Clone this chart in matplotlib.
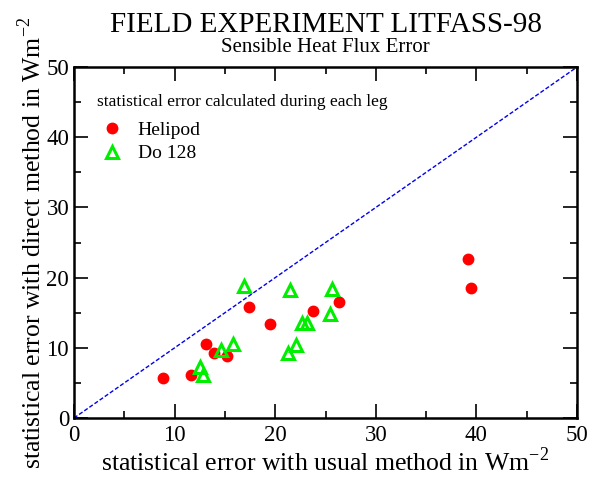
import numpy as np
import matplotlib.pyplot as plt
from matplotlib.ticker import MultipleLocator

plt.rcParams['font.family'] = ['Liberation Serif', 'DejaVu Serif']
plt.rcParams['mathtext.fontset'] = 'custom'
plt.rcParams['mathtext.rm'] = 'Liberation Serif'

# Helipod: usual method vs direct method error (W m-2)
heli_usual = [8.8, 11.6, 13.15, 13.9, 15.2, 17.4, 19.5, 23.8, 26.3, 39.2, 39.5]
heli_direct = [5.7, 6.1, 10.5, 9.2, 8.8, 15.8, 13.4, 15.2, 16.5, 22.6, 18.5]

# Do 128
do_usual = [12.5, 12.8, 14.6, 15.8, 16.9, 21.3, 22.1, 22.7, 23.2, 21.5, 25.4, 25.6]
do_direct = [7.3, 6.1, 9.7, 10.5, 18.8, 9.2, 10.4, 13.6, 13.6, 18.2, 14.8, 18.4]

fig = plt.figure(figsize=(5.92, 4.79), dpi=100)
ax = fig.add_axes([0.125, 0.1273, 0.8497, 0.7327])

ax.plot([0, 50], [0, 50], color='#0000ee', linestyle=(0, (3, 1.5)), linewidth=1.0, zorder=1)
ax.plot(heli_usual, heli_direct, linestyle='none', marker='o', markersize=7.5,
        color='red', markeredgecolor='red', label='Helipod', zorder=3)
ax.plot(do_usual, do_direct, linestyle='none', marker='^', markersize=9,
        markerfacecolor='none', markeredgecolor='#00ee00', markeredgewidth=2.2,
        label='Do 128', zorder=4)

ax.set_xlim(0, 50)
ax.set_ylim(0, 50)
ax.xaxis.set_major_locator(MultipleLocator(10))
ax.yaxis.set_major_locator(MultipleLocator(10))
ax.xaxis.set_minor_locator(MultipleLocator(5))
ax.yaxis.set_minor_locator(MultipleLocator(5))
ax.tick_params(which='both', direction='in', top=True, right=True, width=1.2,
               labelsize=16.5, colors='black')
ax.tick_params(which='major', length=10)
ax.tick_params(axis='x', which='major', pad=5)
ax.tick_params(which='minor', length=5)
for s in ax.spines.values():
    s.set_linewidth(1.8)

ax.set_xlabel('statistical error with usual method in Wm$^{-2}$', fontsize=18.5, labelpad=1)
ax.set_ylabel('statistical error with direct method in Wm$^{-2}$', fontsize=18.5, labelpad=0)

fig.text(0.55, 0.947, 'FIELD EXPERIMENT LITFASS-98', ha='center', va='center', fontsize=21)
fig.text(0.55, 0.900, 'Sensible Heat Flux Error', ha='center', va='center', fontsize=15)

leg = ax.legend(title='statistical error calculated during each leg', loc='upper left',
                bbox_to_anchor=(0.03, 0.945), frameon=False, fontsize=14,
                title_fontsize=12.5, handletextpad=0.5, labelspacing=0.3,
                borderaxespad=0.0, handlelength=1.6)
leg._legend_box.align = 'left'
leg._legend_box.sep = 8

fig.savefig('out.png', dpi=100)
